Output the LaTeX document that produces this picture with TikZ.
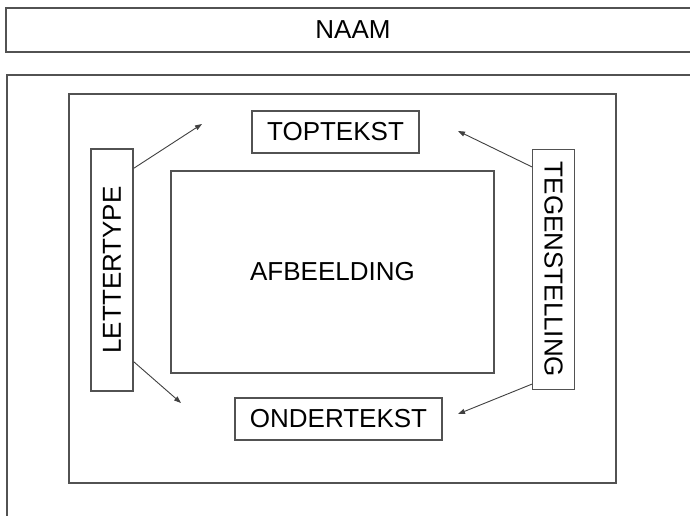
\documentclass[tikz,border=0pt]{standalone}
\usepackage{fontspec}
\setmainfont{Liberation Sans}
\usetikzlibrary{arrows.meta}
\begin{document}
\begin{tikzpicture}[x=1pt,y=-1pt,
  boxline/.style={draw=black!68,line width=1.3pt},
  labelbox/.style={boxline,inner sep=0pt,font=\fontsize{26}{30}\selectfont},
  plainbox/.style={boxline,inner sep=0pt},
  conn/.style={draw=black!75,line width=0.9pt,-{Triangle[length=7pt,width=5pt]}}]
\clip (0,0) rectangle (690,516);
\fill[white] (0,0) rectangle (690,516);
% top bar and page
\node[labelbox,minimum width=694pt,minimum height=44pt] (naam) at (353,30) {NAAM};
\node[plainbox,minimum width=694pt,minimum height=460pt] (page) at (354,305) {};
% inner frame
\node[plainbox,minimum width=547pt,minimum height=389pt] (frame) at (342.5,288.5) {};
% content boxes
\node[labelbox,minimum width=167pt,minimum height=42pt] (top) at (335.5,132) {TOPTEKST};
\node[labelbox,minimum width=323pt,minimum height=202pt] (afb) at (332.5,272) {AFBEELDING};
\node[labelbox,minimum width=207pt,minimum height=42pt] (onder) at (338.5,419) {ONDERTEKST};
\node[labelbox,minimum width=42pt,minimum height=242pt] (lett) at (112,270) {\rotatebox{90}{LETTERTYPE}};
\node[labelbox,minimum width=42pt,minimum height=240pt] (tegen) at (553.5,269.5) {\rotatebox{-90}{TEGENSTELLING}};
% arrow targets
\coordinate (t1) at (202,124);
\coordinate (t2) at (458,131);
\coordinate (t3) at (181,403);
\coordinate (t4) at (458,414);
\draw[conn] ([yshift=-20pt]lett.north east) -- (t1);
\draw[conn] ([yshift=-18pt]tegen.north west) -- (t2);
\draw[conn] ([yshift=30pt]lett.south east) -- (t3);
\draw[conn] ([yshift=6pt]tegen.south west) -- (t4);
\end{tikzpicture}
\end{document}
